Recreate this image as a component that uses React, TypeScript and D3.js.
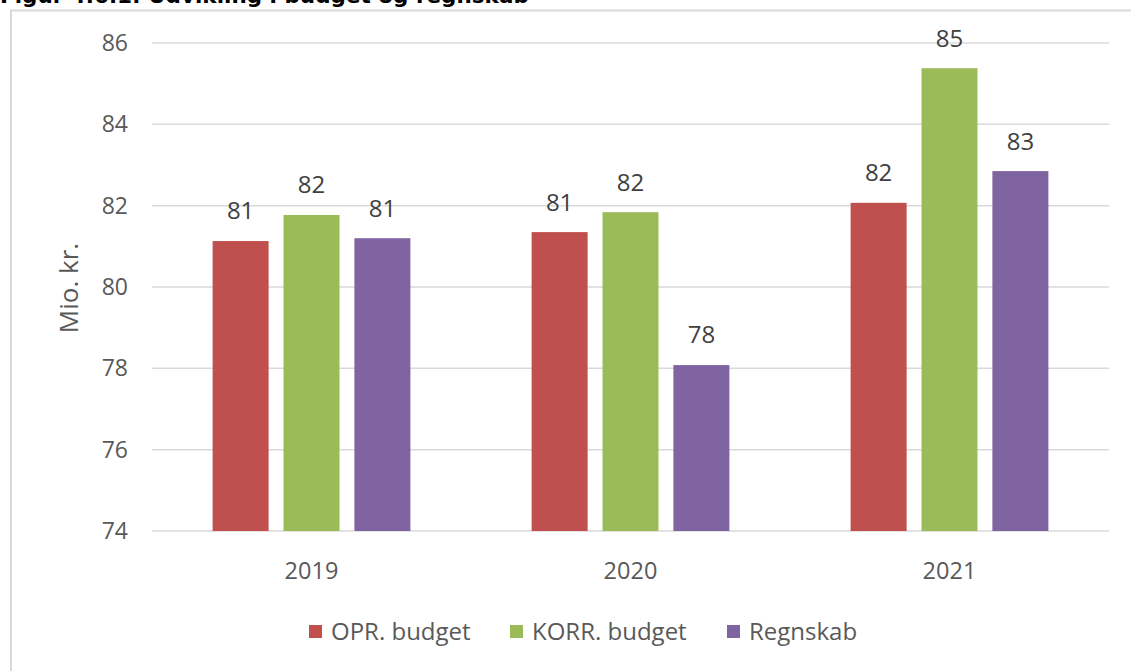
import React from "react";
import * as d3 from "d3";

const categories = ["2019", "2020", "2021"];
const seriesNames = ["OPR. budget", "KORR. budget", "Regnskab"];
const oprBudget = [81.13, 81.35, 82.07];
const korrBudget = [81.77, 81.84, 85.38];
const regnskab = [81.2, 78.08, 82.85];
const yTicks = [74, 76, 78, 80, 82, 84, 86];
const colors = ["#C0504D", "#9BBB59", "#8064A2"];

const W = 1131;
const H = 671;

export default function App() {
  const series = [oprBudget, korrBudget, regnskab];
  const plotL = 152, plotR = 1109, plotT = 43, plotB = 531;
  const y = d3.scaleLinear().domain([74, 86]).range([plotB, plotT]);
  const x0 = d3.scaleBand().domain(categories).range([plotL, plotR]).paddingInner(0.38).paddingOuter(0.19);
  const x1 = d3.scaleBand().domain(seriesNames).range([0, x0.bandwidth()]).paddingInner(0.21);
  const font = "'Open Sans', sans-serif";
  const legendX = [309, 510, 727];

  return (
    <svg width={W} height={H} style={{ position: "absolute", left: 0, top: 0, background: "#fff" }}>
      <text x={0} y={3} fontFamily="'DejaVu Sans', Verdana, sans-serif" fontWeight="bold" fontSize={21.5} fill="#000">
        Figur 4.6.1: Udvikling i budget og regnskab
      </text>
      <rect x={11} y={10.5} width={W + 10} height={H + 10} fill="none" stroke="#D9D9D9" strokeWidth={2} />
      {yTicks.map((t) => (
        <g key={t}>
          <line x1={plotL} x2={plotR} y1={y(t)} y2={y(t)} stroke="#D9D9D9" strokeWidth={1.5} />
          <text x={128} y={y(t)} dy="0.35em" textAnchor="end" fontFamily={font} fontSize={23} fill="#595959">
            {t}
          </text>
        </g>
      ))}
      <text transform={`translate(78,288) rotate(-90)`} textAnchor="middle" fontFamily={font} fontSize={26} fill="#595959">
        Mio. kr.
      </text>
      {categories.map((c, ci) => (
        <g key={c} transform={`translate(${x0(c)},0)`}>
          {series.map((s, si) => {
            const bx = x1(seriesNames[si])!;
            return (
              <g key={si}>
                <rect x={bx} y={y(s[ci])} width={x1.bandwidth()} height={y(74) - y(s[ci])} fill={colors[si]} />
                <text x={bx + x1.bandwidth() / 2} y={y(s[ci]) - 30} dy="0.35em" textAnchor="middle" fontFamily={font} fontSize={24} fill="#404040">
                  {Math.round(s[ci])}
                </text>
              </g>
            );
          })}
          <text x={x0.bandwidth() / 2} y={570.5} dy="0.35em" textAnchor="middle" fontFamily={font} fontSize={23.5} fill="#595959">
            {c}
          </text>
        </g>
      ))}
      {seriesNames.map((n, i) => (
        <g key={n}>
          <rect x={legendX[i]} y={625} width={13} height={13} fill={colors[i]} />
          <text x={legendX[i] + 22} y={631.5} dy="0.35em" fontFamily={font} fontSize={24} fill="#595959">
            {n}
          </text>
        </g>
      ))}
    </svg>
  );
}
